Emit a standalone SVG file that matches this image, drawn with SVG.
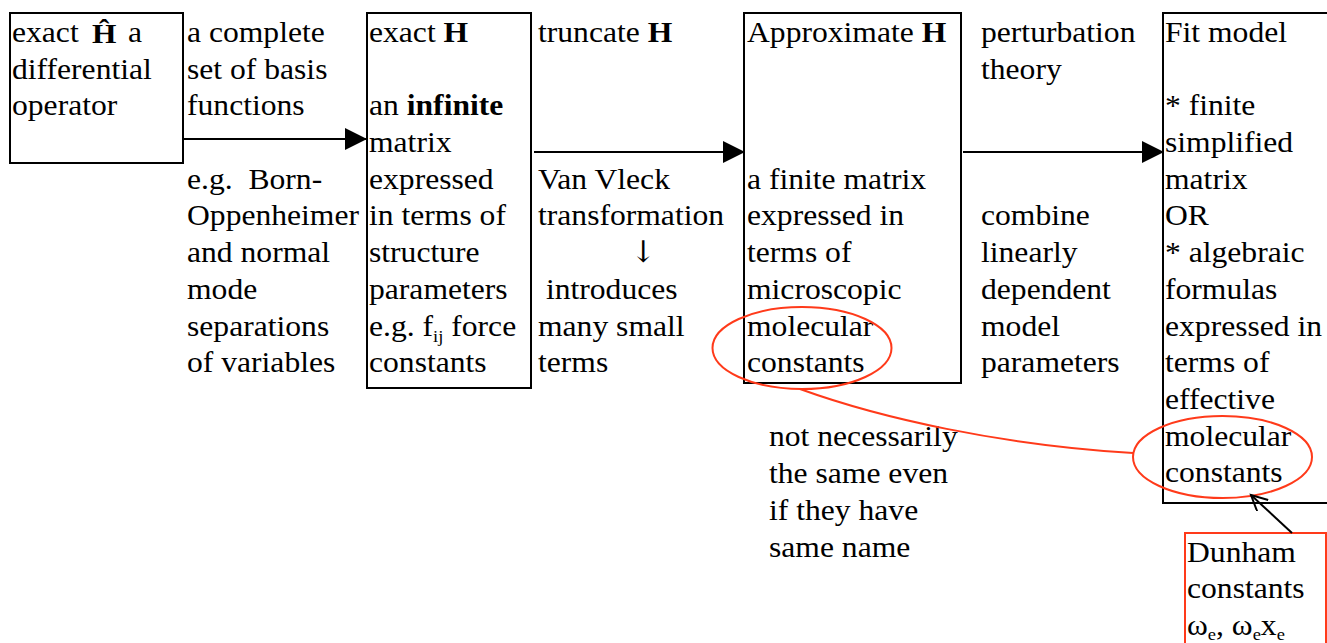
<svg xmlns="http://www.w3.org/2000/svg" width="1327" height="643" viewBox="0 0 1327 643">
<style>
.t{font-family:"Liberation Serif","Times New Roman",serif;font-size:29px;fill:#000}
.b{font-weight:bold}
.sub{font-size:17px}
.arr{font-family:"DejaVu Serif","DejaVu Sans",serif;font-size:30px;fill:#000}
.box{fill:none;stroke:#000;stroke-width:2}
.red{fill:none;stroke:#ff3a1a;stroke-width:2}
.conn{fill:none;stroke:#000;stroke-width:2}
</style>
<defs>
<marker id="ah" markerUnits="userSpaceOnUse" markerWidth="24" markerHeight="24" refX="21" refY="11" orient="auto">
<path d="M0,0 L22,11 L0,22 Z" fill="#000"/>
</marker>
<marker id="open" markerUnits="userSpaceOnUse" markerWidth="20" markerHeight="20" refX="16" refY="8" orient="auto">
<path d="M0,0 L16,8 L0,16" fill="none" stroke="#000" stroke-width="2"/>
</marker>
</defs>

<g id="node-exact-operator">
<rect class="box" x="10" y="13" width="173" height="150"/>
<text class="t" transform="translate(12 0) scale(1.09 1)"><tspan x="0" y="42">exact</tspan><tspan x="0" y="78.7">differential</tspan><tspan x="0" y="115.4">operator</tspan></text>
<text class="t b" style="font-size:28px" transform="translate(92 0) scale(1.12 1)"><tspan x="0" y="43">Ĥ</tspan></text>
<text class="t" transform="translate(128 0) scale(1.09 1)"><tspan x="0" y="42">a</tspan></text>
</g>

<g id="label-basis">
<text class="t" transform="translate(187 0) scale(1.09 1)"><tspan x="0" y="42">a complete</tspan><tspan x="0" y="78.7">set of basis</tspan><tspan x="0" y="115.4">functions</tspan></text>
<text class="t" transform="translate(187 0) scale(1.09 1)"><tspan x="0" y="188.8">e.g.&#160; Born-</tspan><tspan x="0" y="225.5">Oppenheimer</tspan><tspan x="0" y="262.2">and normal</tspan><tspan x="0" y="298.9">mode</tspan><tspan x="0" y="335.6">separations</tspan><tspan x="0" y="372.3">of variables</tspan></text>
</g>

<g id="node-exact-matrix">
<rect class="box" x="367" y="13" width="164" height="375"/>
<text class="t" transform="translate(369 0) scale(1.09 1)"><tspan x="0" y="42">exact <tspan class="b">H</tspan></tspan><tspan x="0" y="115.4">an <tspan class="b">infinite</tspan></tspan><tspan x="0" y="152.1">matrix</tspan><tspan x="0" y="188.8">expressed</tspan><tspan x="0" y="225.5">in terms of</tspan><tspan x="0" y="262.2">structure</tspan><tspan x="0" y="298.9">parameters</tspan><tspan x="0" y="335.6">e.g. f<tspan class="sub" dy="6">ij</tspan><tspan dy="-6"> force</tspan></tspan><tspan x="0" y="372.3">constants</tspan></text>
</g>

<g id="label-truncate">
<text class="t" transform="translate(538 0) scale(1.09 1)"><tspan x="0" y="42">truncate <tspan class="b">H</tspan></tspan><tspan x="0" y="188.8">Van Vleck</tspan><tspan x="0" y="225.5">transformation</tspan><tspan x="0" y="298.9">&#160;introduces</tspan><tspan x="0" y="335.6">many small</tspan><tspan x="0" y="372.3">terms</tspan></text>
<text class="arr" text-anchor="middle" x="643" y="262">↓</text>
</g>

<g id="node-approx">
<rect class="box" x="744" y="13" width="217" height="370"/>
<text class="t" transform="translate(747 0) scale(1.09 1)"><tspan x="0" y="42">Approximate <tspan class="b">H</tspan></tspan><tspan x="0" y="188.8">a finite matrix</tspan><tspan x="0" y="225.5">expressed in</tspan><tspan x="0" y="262.2">terms of</tspan><tspan x="0" y="298.9">microscopic</tspan><tspan x="0" y="335.6">molecular</tspan><tspan x="0" y="372.3">constants</tspan></text>
</g>

<g id="label-perturbation">
<text class="t" transform="translate(981 0) scale(1.09 1)"><tspan x="0" y="42">perturbation</tspan><tspan x="0" y="78.7">theory</tspan><tspan x="0" y="225.5">combine</tspan><tspan x="0" y="262.2">linearly</tspan><tspan x="0" y="298.9">dependent</tspan><tspan x="0" y="335.6">model</tspan><tspan x="0" y="372.3">parameters</tspan></text>
</g>

<g id="node-fit-model">
<rect class="box" x="1163" y="13" width="180" height="490"/>
<text class="t" transform="translate(1165 0) scale(1.09 1)"><tspan x="0" y="42">Fit model</tspan><tspan x="0" y="115.4">* finite</tspan><tspan x="0" y="152.1">simplified</tspan><tspan x="0" y="188.8">matrix</tspan><tspan x="0" y="225.5">OR</tspan><tspan x="0" y="262.2">* algebraic</tspan><tspan x="0" y="298.9">formulas</tspan><tspan x="0" y="335.6">expressed in</tspan><tspan x="0" y="372.3">terms of</tspan><tspan x="0" y="409">effective</tspan><tspan x="0" y="445.7">molecular</tspan><tspan x="0" y="482.4">constants</tspan></text>
</g>

<g id="label-not-same">
<text class="t" transform="translate(769 0) scale(1.09 1)"><tspan x="0" y="446.5">not necessarily</tspan><tspan x="0" y="483.2">the same even</tspan><tspan x="0" y="519.9">if they have</tspan><tspan x="0" y="556.6">same name</tspan></text>
</g>

<g id="node-dunham">
<rect class="red" x="1185" y="533" width="141" height="130"/>
<text class="t" transform="translate(1187 0) scale(1.09 1)"><tspan x="0" y="562">Dunham</tspan><tspan x="0" y="598.5">constants</tspan><tspan x="0" y="635">ω<tspan class="sub" dy="5">e</tspan><tspan dy="-5">, ω</tspan><tspan class="sub" dy="5">e</tspan><tspan dy="-5">x</tspan><tspan class="sub" dy="5">e</tspan></tspan></text>
</g>

<g id="highlights">
<ellipse class="red" cx="802" cy="348" rx="89.5" ry="41"/>
<ellipse class="red" cx="1222.5" cy="457" rx="89.5" ry="41"/>
</g>

<g id="connectors">
<line class="conn" x1="183" y1="139" x2="366" y2="139" marker-end="url(#ah)"/>
<line class="conn" x1="534" y1="152" x2="744" y2="152" marker-end="url(#ah)"/>
<line class="conn" x1="963" y1="152" x2="1163" y2="152" marker-end="url(#ah)"/>
<path class="red" d="M800,389 C880,418 1000,445 1133,453"/>
<line class="conn" x1="1292" y1="533" x2="1251" y2="495" marker-end="url(#open)"/>
</g>
</svg>
